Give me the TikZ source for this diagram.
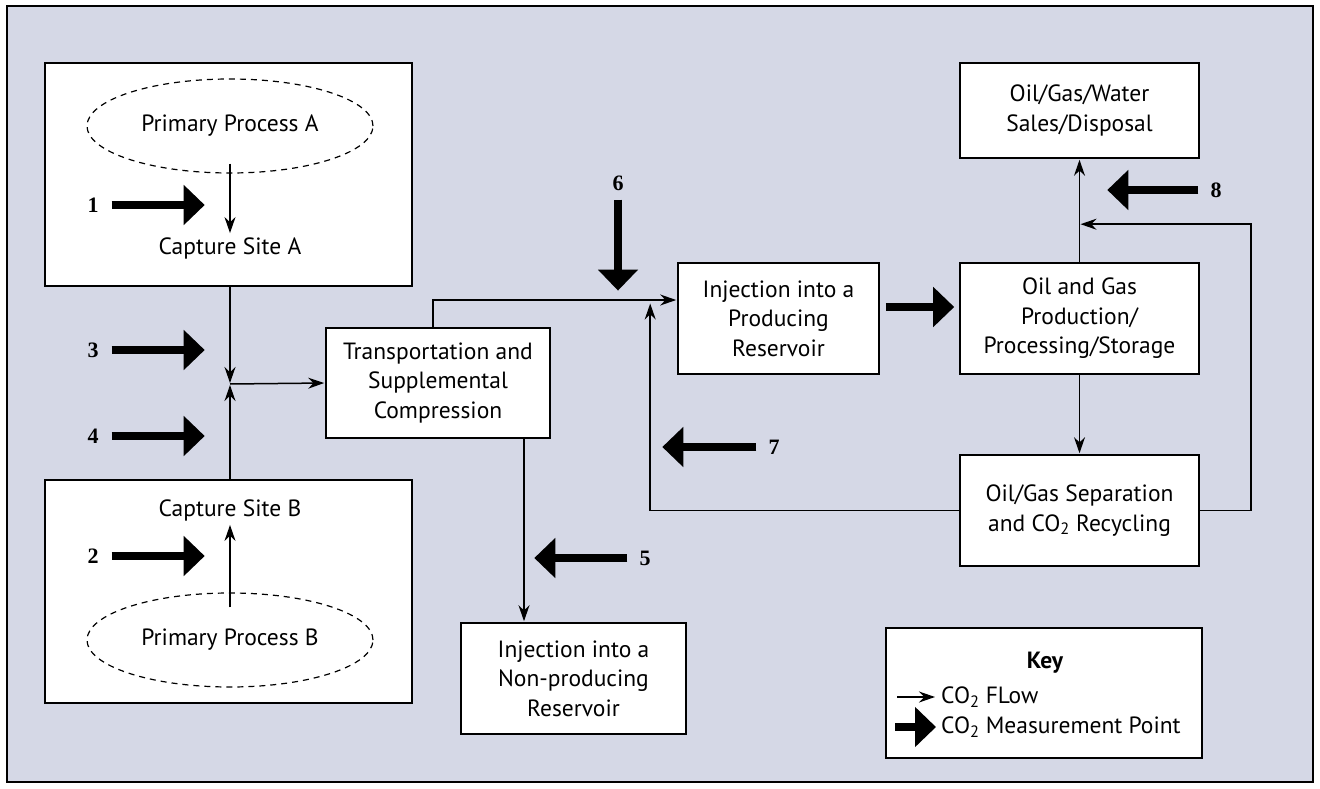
\documentclass[tikz,border=0pt]{standalone}
\usepackage{fontspec}
\setmainfont{PT Sans}
\newfontfamily\numfont{Liberation Serif}
\usepackage{tikz}
\usetikzlibrary{
        arrows.meta,
        positioning,
        shapes,
        shapes.geometric
    }
\definecolor{panelbg}{RGB}{213,216,230}
\tikzset{>={Stealth[length=16pt,width=11pt]},shorten >=1pt,auto}
\tikzset{flow box/.style={draw,fill=white,line width=1.6pt,align=center,inner sep=0pt,font=\fontsize{23.5}{29.5}\selectfont}}
\tikzset{site box/.style={draw,fill=white,line width=1.6pt,inner sep=0pt,minimum width=367pt,minimum height=223pt}}
\tikzset{process/.style={draw,ellipse,line width=1.2pt,dash pattern=on 6pt off 5pt,minimum width=286pt,minimum height=94pt,font=\fontsize{23.5}{29.5}\selectfont}}
\tikzset{site text/.style={font=\fontsize{23.5}{29.5}\selectfont,inner sep=3pt}}
\tikzset{flow/.style={->,line width=1.5pt}}
\tikzset{meas/.style={line width=8pt,shorten >=0pt,-{Triangle[length=21pt,width=39pt]}}}
\tikzset{num/.style={inner sep=0pt,font=\numfont\bfseries\fontsize{22}{22}\selectfont}}

\begin{document}
\begin{tikzpicture}[x=1pt,y=-1pt]
            \useasboundingbox (0,0) rectangle (1320,789);
            \draw[fill=panelbg,line width=1.5pt] (7,6) rectangle (1313,782);

            % capture site A
            \node[site box] (siteA) at (228.5,174.5) {};
            \node[process] (procA) at (230,126) {Primary Process A};
            \node[site text] (capA) at (230,248) {Capture Site A};
            \draw[flow] ([yshift=10pt]procA.south) -- (capA.north);

            % capture site B
            \node[site box] (siteB) at (228.5,591.5) {};
            \node[process] (procB) at (230,640) {Primary Process B};
            \node[site text] (capB) at (230,510) {Capture Site B};
            \draw[flow] ([yshift=-15pt]procB.north) -- (capB.south);

            \coordinate (j) at (230,384);
            \node[flow box,minimum width=224pt,minimum height=110pt] (trans) at (438,383) {Transportation and\\Supplemental\\Compression};
            \node[flow box,minimum width=225pt,minimum height=111pt] (nonP) at (573.5,678.5) {Injection into a\\Non-producing\\Reservoir};
            \node[flow box,minimum width=201pt,minimum height=111pt] (injP) at (778.5,318.5) {Injection into a\\Producing\\Reservoir};
            \node[flow box,minimum width=239pt,minimum height=111pt] (oilgas) at (1079.5,318.5) {Oil and Gas\\Production/\\Processing/Storage};
            \node[flow box,minimum width=239pt,minimum height=95pt] (sales) at (1079.5,110.5) {Oil/Gas/Water\\Sales/Disposal};
            \node[flow box,minimum width=239pt,minimum height=111pt] (sep) at (1079.5,510.5) {Oil/Gas Separation\\and CO\textsubscript{2} Recycling};

            \draw[flow] (siteA.south -| j) -- (j);
            \draw[flow] (siteB.north -| j) -- (j);
            \draw[flow] (j) -- (trans.west);
            \draw[flow] ([xshift=-5pt]trans.north) |- ([yshift=18.5pt]injP.west);
            \draw[flow] ([xshift=86pt]trans.south) -- ([xshift=86pt]trans.south |- nonP.north);
            \draw[flow] (sep.west) -| ([xshift=-27pt,yshift=16pt]injP.west);
            \draw[flow] (oilgas.north) -- (sales.south);
            \draw[flow] (oilgas.south) -- (sep.north);
            \draw[flow] (sep.east) -- ++(51,0) |- ([yshift=38pt]oilgas.north);

            % measurement points
            \node[num] (n1) at (93,205) {1};
            \node[num] (n2) at (93,556) {2};
            \node[num] (n3) at (93,350) {3};
            \node[num] (n4) at (93,436) {4};
            \node[num] (n5) at (645,558) {5};
            \node[num] (n6) at (618,183) {6};
            \node[num] (n7) at (774,447) {7};
            \node[num] (n8) at (1216,190) {8};
            \draw[meas] ([xshift=13pt]n1.east) -- ++(93,0);
            \draw[meas] ([xshift=13pt]n2.east) -- ++(93,0);
            \draw[meas] ([xshift=13pt]n3.east) -- ++(93,0);
            \draw[meas] ([xshift=13pt]n4.east) -- ++(93,0);
            \draw[meas] ([xshift=-12pt]n5.west) -- ++(-93,0);
            \draw[meas] ([yshift=-9pt]n6.south) -- ++(0,91);
            \draw[meas] ([xshift=-12pt]n7.west) -- ++(-94,0);
            \draw[meas] ([xshift=-12pt]n8.west) -- ++(-91,0);
            \draw[meas] ([xshift=6pt,yshift=11.5pt]injP.east) -- ([xshift=-5pt,yshift=11.5pt]oilgas.west);

            % key
            \node[flow box,minimum width=316pt,minimum height=130pt] (key) at (1044,693) {};
            \node[site text] (keyt) at (1045,663) {\bfseries Key};
            \node[site text,anchor=west,inner sep=0pt] (kflow) at (941,697) {CO\textsubscript{2} FLow};
            \node[site text,anchor=west,inner sep=0pt] (kmeas) at (941,727) {CO\textsubscript{2} Measurement Point};
            \draw[flow] ([xshift=-44pt]kflow.west) -- ([xshift=-5pt]kflow.west);
            \draw[meas] ([xshift=-46pt]kmeas.west) -- ([xshift=-5pt]kmeas.west);
        \end{tikzpicture}
\end{document}
